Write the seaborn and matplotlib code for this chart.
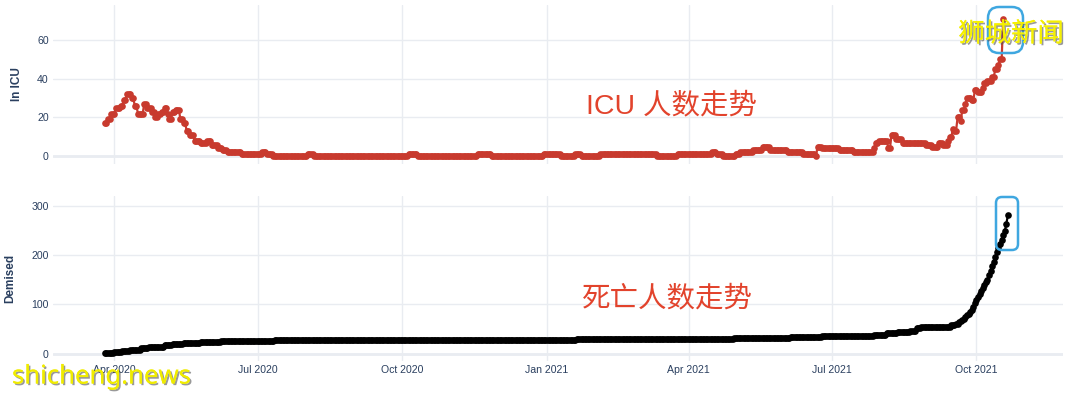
import pandas as pd
import matplotlib.pyplot as plt
import matplotlib.patheffects as pe
from matplotlib.patches import FancyBboxPatch
from matplotlib.transforms import IdentityTransform
import seaborn as sns

# -----------------------------
# Data (change points, each value holds until the next date)
# -----------------------------
icu_dates = ["2020-03-26", "2020-03-28", "2020-03-30", "2020-04-02", "2020-04-05", "2020-04-07",
             "2020-04-09", "2020-04-12", "2020-04-14", "2020-04-16", "2020-04-20", "2020-04-22",
             "2020-04-25", "2020-04-27", "2020-04-29", "2020-05-01", "2020-05-03", "2020-05-05",
             "2020-05-06", "2020-05-08", "2020-05-10", "2020-05-13", "2020-05-15", "2020-05-17",
             "2020-05-19", "2020-05-22", "2020-05-26", "2020-05-30", "2020-06-02", "2020-06-06",
             "2020-06-09", "2020-06-12", "2020-06-21", "2020-07-04", "2020-07-07", "2020-07-11",
             "2020-08-02", "2020-08-06", "2020-10-05", "2020-10-11", "2020-11-18", "2020-11-27",
             "2020-12-30", "2021-01-10", "2021-01-19", "2021-01-23", "2021-02-04", "2021-03-12",
             "2021-03-25", "2021-04-16", "2021-04-19", "2021-04-23", "2021-05-01", "2021-05-04",
             "2021-05-12", "2021-05-18", "2021-05-23", "2021-06-03", "2021-06-13", "2021-06-21",
             "2021-06-22", "2021-06-25", "2021-07-06", "2021-07-15", "2021-07-28", "2021-07-29",
             "2021-07-31", "2021-08-06", "2021-08-08", "2021-08-11", "2021-08-15", "2021-08-30",
             "2021-09-03", "2021-09-07", "2021-09-10", "2021-09-13", "2021-09-14", "2021-09-16",
             "2021-09-17", "2021-09-19", "2021-09-21", "2021-09-22", "2021-09-24", "2021-09-25",
             "2021-09-28", "2021-09-30", "2021-10-02", "2021-10-05", "2021-10-06", "2021-10-08",
             "2021-10-11", "2021-10-13", "2021-10-15", "2021-10-16", "2021-10-18"]
icu_values = [17, 19, 22, 25, 26, 29,
              32, 30, 26, 22, 27, 25,
              23, 20, 22, 23, 25, 22,
              19, 23, 24, 19, 17, 13,
              11, 8, 7, 8, 6, 4,
              3, 2, 1, 2, 1, 0,
              1, 0, 1, 0, 1, 0,
              1, 0, 1, 0, 1, 0,
              1, 2, 1, 0, 1, 2,
              3, 5, 3, 2, 1, 0,
              5, 4, 3, 2, 4, 7,
              8, 4, 11, 9, 7, 6,
              5, 7, 6, 8, 10, 14,
              13, 20, 18, 24, 27, 30,
              29, 34, 33, 35, 38, 39,
              41, 45, 47, 50, 71]
icu_end = "2021-10-18"

death_dates = ["2020-03-26", "2020-04-01", "2020-04-06", "2020-04-11", "2020-04-18", "2020-04-23",
               "2020-04-28", "2020-05-03", "2020-05-08", "2020-05-15", "2020-05-26", "2020-06-08",
               "2020-06-22", "2020-07-12", "2021-01-20", "2021-03-25", "2021-04-30", "2021-05-18",
               "2021-06-05", "2021-06-25", "2021-07-22", "2021-07-28", "2021-08-05", "2021-08-12",
               "2021-08-20", "2021-08-24", "2021-08-27", "2021-09-08", "2021-09-15", "2021-09-18",
               "2021-09-20", "2021-09-21", "2021-09-22", "2021-09-23", "2021-09-24", "2021-09-25",
               "2021-09-26", "2021-09-27", "2021-09-28", "2021-09-29", "2021-09-30", "2021-10-01",
               "2021-10-02", "2021-10-03", "2021-10-04", "2021-10-05", "2021-10-06", "2021-10-07",
               "2021-10-08", "2021-10-09", "2021-10-10", "2021-10-11", "2021-10-12", "2021-10-13",
               "2021-10-14", "2021-10-15", "2021-10-16", "2021-10-17", "2021-10-18", "2021-10-19",
               "2021-10-20", "2021-10-21"]
death_values = [2, 4, 6, 8, 11, 13,
                14, 18, 20, 21, 23, 25,
                26, 27, 29, 30, 31, 32,
                34, 35, 36, 38, 41, 43,
                46, 52, 54, 55, 58, 61,
                64, 66, 68, 71, 75, 78,
                80, 84, 88, 95, 102, 108,
                115, 122, 128, 134, 140, 145,
                150, 159, 168, 177, 187, 197,
                207, 215, 223, 231, 240, 248,
                264, 281]
death_end = "2021-10-21"

quarter_labels = ["Apr 2020", "Jul 2020", "Oct 2020", "Jan 2021", "Apr 2021", "Jul 2021", "Oct 2021"]


def daily(dates, values, end):
    s = pd.Series(values, index=pd.to_datetime(dates), dtype=float)
    idx = pd.date_range(s.index[0], end, freq="D")
    return s.reindex(idx).ffill()


icu = daily(icu_dates, icu_values, icu_end)
deaths = daily(death_dates, death_values, death_end)

# -----------------------------
# Style
# -----------------------------
sns.set_theme(style="white")
plt.rcParams['font.family'] = ['Liberation Sans', 'Noto Sans CJK SC', 'DejaVu Sans']

W, H = 1080, 396
fig = plt.figure(figsize=(W / 100, H / 100), dpi=100)
ax1 = fig.add_axes([53 / W, 1 - 164 / H, 1010 / W, 159 / H])
ax2 = fig.add_axes([53 / W, 1 - 361 / H, 1010 / W, 165 / H], sharex=ax1)

grid_col = "#e9ecf1"
tick_col = "#2a3f5f"

sns.lineplot(x=icu.index, y=icu.values, ax=ax1, color="#c83a2e", marker="o",
             markersize=4.8, markeredgewidth=0, linewidth=1.6, zorder=3)
sns.lineplot(x=deaths.index, y=deaths.values, ax=ax2, color="black", marker="o",
             markersize=4.8, markeredgewidth=0, linewidth=1.6, zorder=3)

ax1.set_ylim(-4, 78)
ax1.set_yticks([0, 20, 40, 60])
ax2.set_ylim(-15, 320)
ax2.set_yticks([0, 100, 200, 300])
ax2.set_xlim(pd.Timestamp("2020-02-22"), pd.Timestamp("2021-11-25"))

quarters = pd.date_range("2020-04-01", "2021-10-01", freq="QS")
ax2.set_xticks(quarters)
ax2.set_xticklabels(quarter_labels)

for ax in (ax1, ax2):
    for sp in ax.spines.values():
        sp.set_visible(False)
    ax.grid(True, color=grid_col, linewidth=1, zorder=0)
    ax.axhline(0, color=grid_col, linewidth=2, zorder=1)
    ax.tick_params(length=0, labelsize=7.6, labelcolor=tick_col, pad=3)
    ax.set_xlabel("")
plt.setp(ax1.get_xticklabels(), visible=False)

ax1.set_ylabel("In ICU", fontsize=8.5, fontweight="bold", color=tick_col)
ax2.set_ylabel("Demised", fontsize=8.5, fontweight="bold", color=tick_col)
ax1.yaxis.set_label_coords(-0.030, 0.5)
ax2.yaxis.set_label_coords(-0.036, 0.5)

# -----------------------------
# Annotations
# -----------------------------
fig.text(671 / W, 1 - 106 / H, "ICU 人数走势", color="#e2432c", fontsize=20.5,
         ha="center", va="center")
fig.text(667 / W, 1 - 299 / H, "死亡人数走势", color="#e2432c", fontsize=20.5,
         ha="center", va="center")

# blue highlight boxes (pixel coordinates)
for x0, y0, x1, y1, r in [(988, 7, 1023, 53, 11), (996, 197, 1018, 250, 6)]:
    box = FancyBboxPatch((x0, H - y1), x1 - x0, y1 - y0,
                         boxstyle=f"round,pad=0,rounding_size={r}",
                         transform=IdentityTransform(), fill=False,
                         edgecolor="#3fa7e0", linewidth=1.8, zorder=10)
    fig.patches.append(box)

shadow = [pe.withSimplePatchShadow(offset=(1.2, -1.2), shadow_rgbFace="#555555", alpha=0.6),
          pe.Normal()]
fig.text(1011 / W, 1 - 34 / H, "狮城新闻", color="#f5f000", fontsize=19,
         ha="center", va="center", family=["Noto Sans CJK SC"],
         path_effects=shadow, zorder=20)
fig.text(12 / W, 1 - 377 / H, "shicheng.news", color="#f0ec00", fontsize=18.5,
         ha="left", va="center", family=["Noto Sans"], fontweight="light",
         path_effects=shadow, zorder=20)

plt.savefig("out.png", dpi=100)
plt.close()
